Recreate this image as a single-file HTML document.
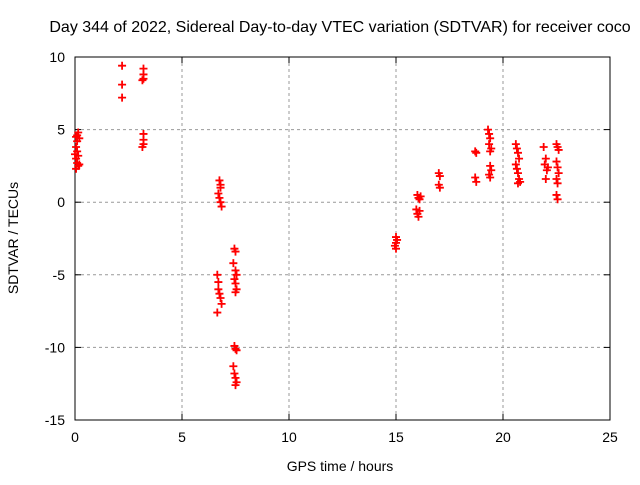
<!DOCTYPE html>
<html><head><meta charset="utf-8"><style>
body{margin:0;background:#fff}
svg text{font-family:"Liberation Sans",sans-serif;font-size:14px;fill:#000}
</style></head><body>
<svg id="chart" width="640" height="480">
<text x="340" y="32" text-anchor="middle" style="font-size:16px">Day 344 of 2022, Sidereal Day-to-day VTEC variation (SDTVAR) for receiver coco</text>
<g id="grid"></g><g id="axes"></g><g id="pts"></g>
<text x="340" y="471" text-anchor="middle">GPS time / hours</text>
<text transform="translate(18,238) rotate(-90)" text-anchor="middle">SDTVAR / TECUs</text>
</svg>
<script>
const xTicks=[0,5,10,15,20,25];
const yTicks=[10,5,0,-5,-10,-15];
const hours=[0.05,0.1,0.15,0.2,0.05,0.1,0.15,0.05,0.1,0.15,0.05,0.2,0.1,0.0,
2.2,2.2,2.2,
3.2,3.2,3.2,3.15,3.2,3.2,3.2,3.15,
6.75,6.8,6.8,6.7,6.75,6.8,6.85,
6.65,6.7,6.7,6.75,6.8,6.85,6.65,
7.45,7.5,7.4,7.5,7.55,7.45,7.5,7.55,7.5,
7.45,7.5,7.55,7.4,7.45,7.5,7.55,7.5,
15.0,15.05,15.0,14.95,15.0,
16.0,16.05,16.1,16.15,15.95,16.0,16.05,16.1,
17.0,17.05,17.0,17.05,
18.7,18.75,18.7,18.75,
19.3,19.35,19.4,19.35,19.45,19.4,19.4,19.45,19.35,19.4,
20.6,20.65,20.7,20.75,20.6,20.65,20.7,20.75,20.8,20.7,
21.9,22.0,21.95,22.05,22.0,22.1,
22.5,22.55,22.6,22.5,22.55,22.6,22.5,22.55,22.5,22.55];
const values=[4.5,4.6,4.8,4.4,3.8,3.5,3.2,3.0,2.7,2.5,2.3,2.6,4.2,3.3,
9.4,8.1,7.2,
9.2,8.8,8.5,8.4,4.7,4.3,4.0,3.8,
1.5,1.2,1.0,0.6,0.3,0.0,-0.3,
-5.0,-5.5,-6.0,-6.3,-6.6,-7.0,-7.6,
-3.2,-3.4,-4.2,-4.7,-5.0,-5.3,-5.6,-6.0,-6.2,
-9.9,-10.1,-10.2,-11.3,-11.8,-12.1,-12.4,-12.6,
-2.4,-2.6,-2.8,-3.0,-3.2,
0.5,0.3,0.2,0.4,-0.5,-0.8,-1.0,-0.6,
2.0,1.8,1.2,1.0,
3.5,3.4,1.7,1.4,
5.0,4.7,4.4,4.0,3.7,3.5,2.5,2.2,1.9,1.7,
4.0,3.7,3.4,3.0,2.6,2.3,2.0,1.6,1.4,1.3,
3.8,3.0,2.6,2.2,1.6,2.4,
4.0,3.8,3.6,2.8,2.4,2.0,1.6,1.3,0.5,0.2];
const L=75,R=610,T=57,B=420;
const sx=h=>L+(h-0)/25*(R-L);
const sy=v=>T+(10-v)/25*(B-T);
const NS="http://www.w3.org/2000/svg";
function mk(tag,attrs,parent){const e=document.createElementNS(NS,tag);for(const k in attrs)e.setAttribute(k,attrs[k]);parent.appendChild(e);return e;}
const grid=document.getElementById('grid'),axes=document.getElementById('axes'),pts=document.getElementById('pts');
xTicks.forEach(t=>{const x=sx(t);
 if(t>0&&t<25){const g=mk('line',{x1:x,x2:x,y1:T,y2:B,stroke:'#999','stroke-dasharray':'3,3'},grid);
 
 }
 mk('line',{x1:x,x2:x,y1:B,y2:B-6,stroke:'#000'},axes);mk('line',{x1:x,x2:x,y1:T,y2:T+6,stroke:'#000'},axes);
 const tx=mk('text',{x:x,y:B+22,'text-anchor':'middle'},axes);tx.textContent=t;
 
 });
yTicks.forEach(t=>{const y=sy(t);
 if(t<10&&t>-15){const g=mk('line',{x1:L,x2:R,y1:y,y2:y,stroke:'#999','stroke-dasharray':'3,3'},grid);
 
 }
 mk('line',{x1:L,x2:L+6,y1:y,y2:y,stroke:'#000'},axes);mk('line',{x1:R,x2:R-6,y1:y,y2:y,stroke:'#000'},axes);
 const tx=mk('text',{x:L-10,y:y+5,'text-anchor':'end'},axes);tx.textContent=t;
 
 });
const fr=mk('rect',{x:L,y:T,width:R-L,height:B-T,fill:'none',stroke:'#000'},axes);


hours.forEach((h,i)=>{const x=sx(h),y=sy(values[i]);
 const p=mk('path',{d:`M${x-4},${y}H${x+4}M${x},${y-4}V${y+4}`,stroke:'#f00','stroke-width':1.8},pts);
 
 });
</script>
</body></html>
